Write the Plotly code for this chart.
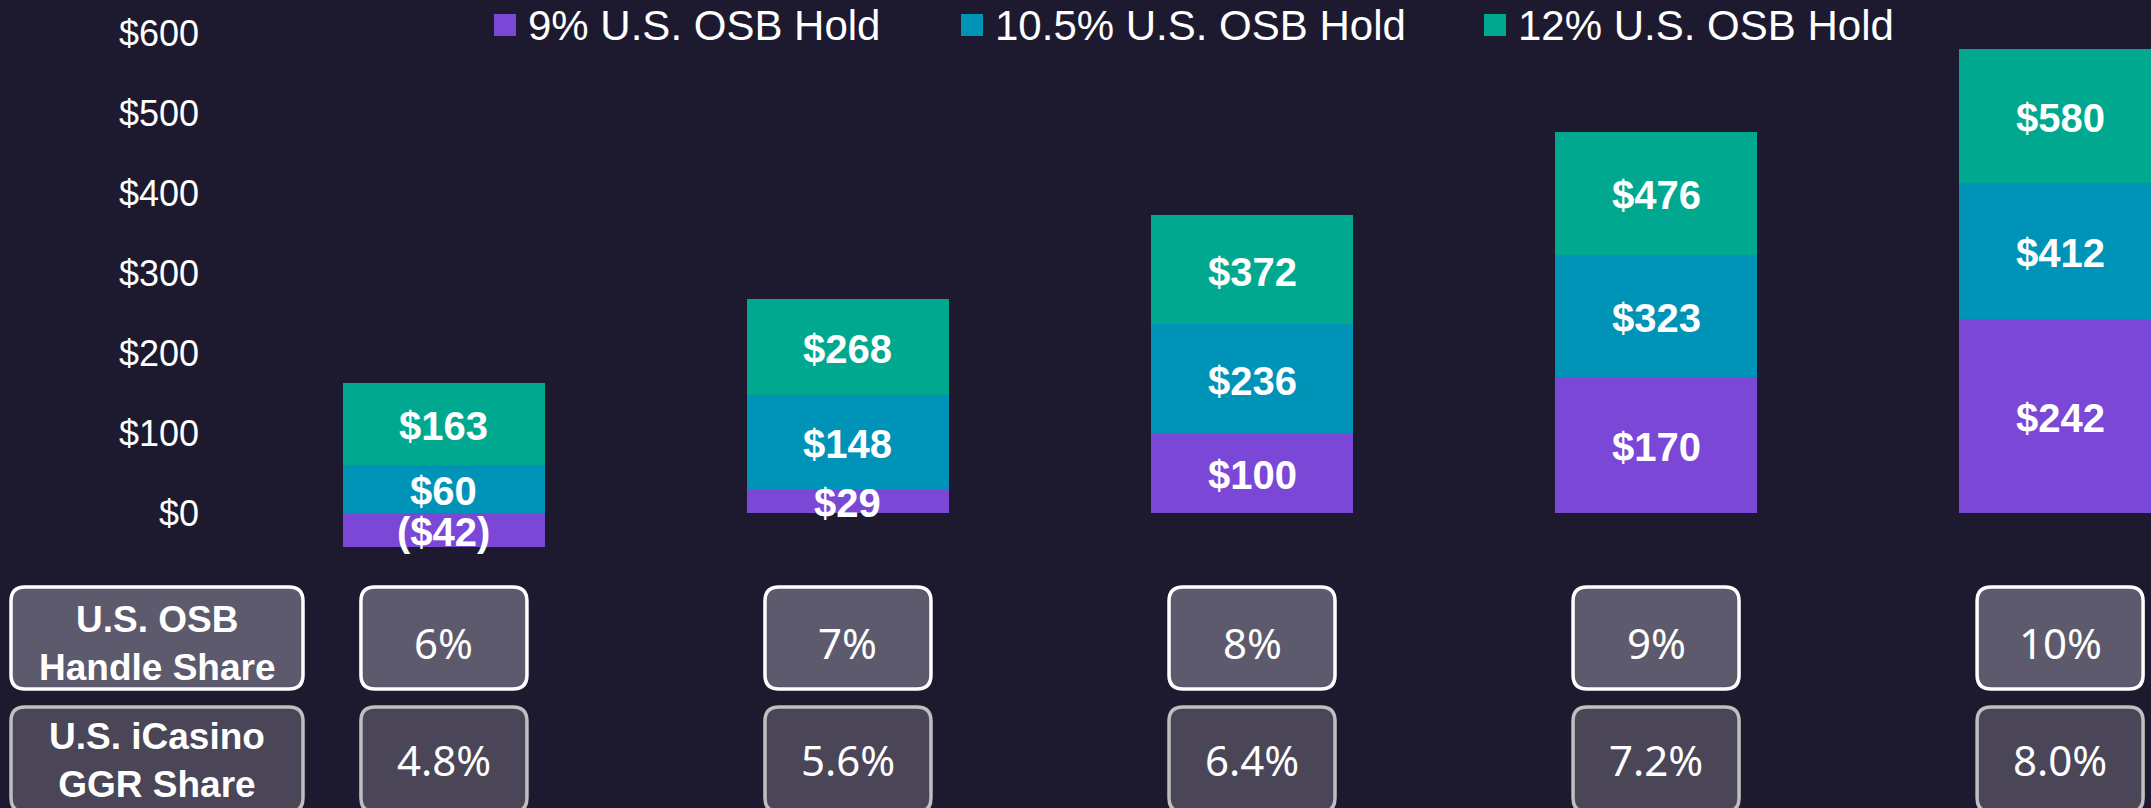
import plotly.graph_objects as go

# Scenario columns: U.S. OSB handle share and the matching iCasino GGR share
osb_handle_share = ["6%", "7%", "8%", "9%", "10%"]
icasino_ggr_share = ["4.8%", "5.6%", "6.4%", "7.2%", "8.0%"]

# Value ($M) under each U.S. OSB hold assumption
series_names = ["9% U.S. OSB Hold", "10.5% U.S. OSB Hold", "12% U.S. OSB Hold"]
hold_9 = [-42, 29, 100, 170, 242]
hold_10_5 = [60, 148, 236, 323, 412]
hold_12 = [163, 268, 372, 476, 580]

y_ticks = [0, 100, 200, 300, 400, 500, 600]

BG = "#1d1a30"
COLORS = ["#7b47d6", "#0093b8", "#00a88f"]
W, H = 2151, 808
M_L, M_R, M_T, M_B = 210, 0, 9, 247
PLOT_W = W - M_L - M_R
PLOT_H = H - M_T - M_B
X_RANGE = [-0.579, 4.225]
Y_RANGE = [-60, 630]

SANS = "Liberation Sans, Arial, sans-serif"
NUM = "Noto Sans, Open Sans, sans-serif"


def money(v):
    return f"(${abs(v)})" if v < 0 else f"${v}"


def py(p):
    """Pixel row (from top) to paper y."""
    return (H - M_B - p) / PLOT_H


def px(p):
    """Pixel column (from left) to paper x."""
    return (p - M_L) / PLOT_W


x = list(range(len(osb_handle_share)))
fig = go.Figure()

# Overlaid bars from zero: largest value at the back, smallest at the front
for vals, color, name in [(hold_12, COLORS[2], series_names[2]),
                          (hold_10_5, COLORS[1], series_names[1]),
                          (hold_9, COLORS[0], series_names[0])]:
    fig.add_trace(go.Bar(x=x, y=vals, width=0.5, marker=dict(color=color, line=dict(width=0)),
                         name=name, showlegend=False, hoverinfo="skip"))

shapes = []
annotations = []

# Value labels centred on the visible part of each segment
for i in x:
    segs = [
        ((min(0, hold_9[i]) + max(0, hold_9[i])) / 2, hold_9[i]),
        ((max(0, hold_9[i]) + hold_10_5[i]) / 2, hold_10_5[i]),
        ((hold_10_5[i] + hold_12[i]) / 2, hold_12[i]),
    ]
    for mid, v in segs:
        annotations.append(dict(xref="x", yref="y", x=i, y=mid, text=money(v),
                                showarrow=False, xanchor="center", yanchor="middle", yshift=-2,
                                font=dict(family=SANS, size=40, color="white", weight="bold")))

# Legend row across the top
legend_items = [(494, 526), (961, 993), (1484, 1516)]
for (sq_x, tx), name, color in zip(legend_items, series_names, COLORS):
    shapes.append(dict(type="rect", xref="paper", yref="paper",
                       x0=px(sq_x), x1=px(sq_x + 22), y0=py(36), y1=py(14),
                       fillcolor=color, line=dict(width=0)))
    annotations.append(dict(xref="paper", yref="paper", x=px(tx), y=py(25), text=name,
                            showarrow=False, xanchor="left", yanchor="middle",
                            font=dict(family=SANS, size=42, color="white")))


def rounded(x0, x1, y0, y1, rx, ry):
    return (f"M {x0 + rx},{y1} L {x1 - rx},{y1} Q {x1},{y1} {x1},{y1 - ry} "
            f"L {x1},{y0 + ry} Q {x1},{y0} {x1 - rx},{y0} "
            f"L {x0 + rx},{y0} Q {x0},{y0} {x0},{y0 + ry} "
            f"L {x0},{y1 - ry} Q {x0},{y1} {x0 + rx},{y1} Z")


px_per_cat = PLOT_W / (X_RANGE[1] - X_RANGE[0])
RAD = 14
rows = [
    dict(top=587, bot=689, fill="#5d5a6d", edge="#ffffff",
         title="U.S. OSB<br>Handle Share", values=osb_handle_share, ty=642, tty=643),
    dict(top=707, bot=812, fill="#4a4658", edge="#bfbfbf",
         title="U.S. iCasino<br>GGR Share", values=icasino_ggr_share, ty=759, tty=760),
]
for row in rows:
    y0, y1 = py(row["bot"]), py(row["top"])
    ry = RAD / PLOT_H
    # Row title box on the left
    shapes.append(dict(type="path", xref="paper", yref="paper",
                       path=rounded(px(11), px(303), y0, y1, RAD / PLOT_W, ry),
                       fillcolor=row["fill"], line=dict(color=row["edge"], width=3.5)))
    annotations.append(dict(xref="paper", yref="paper", x=px(157), y=py(row["tty"]),
                            text=row["title"], showarrow=False, align="center",
                            xanchor="center", yanchor="middle",
                            font=dict(family=SANS, size=37, color="white", weight="bold")))
    # One value box under each column
    half = 83 / px_per_cat
    for i, v in zip(x, row["values"]):
        shapes.append(dict(type="path", xref="x", yref="paper",
                           path=rounded(i - half, i + half, y0, y1, RAD / px_per_cat, ry),
                           fillcolor=row["fill"], line=dict(color=row["edge"], width=3.5)))
        annotations.append(dict(xref="x", yref="paper", x=i, y=py(row["ty"]), text=v,
                                showarrow=False, xanchor="center", yanchor="middle",
                                font=dict(family=NUM, size=42, color="white")))

fig.update_layout(
    width=W, height=H,
    margin=dict(l=M_L, r=M_R, t=M_T, b=M_B, pad=0),
    paper_bgcolor=BG, plot_bgcolor=BG,
    barmode="overlay",
    bargap=0,
    showlegend=False,
    shapes=shapes,
    annotations=annotations,
    xaxis=dict(range=X_RANGE, showticklabels=False, showgrid=False, zeroline=False,
               showline=False, ticks="", fixedrange=True),
    yaxis=dict(range=Y_RANGE, tickvals=y_ticks, ticktext=[f"${t}" for t in y_ticks],
               showgrid=False, zeroline=False, showline=False, ticks="",
               ticklabelstandoff=10,
               tickfont=dict(family=SANS, size=36, color="white"), fixedrange=True),
)

fig.write_html("out.html", config={"displayModeBar": False})
